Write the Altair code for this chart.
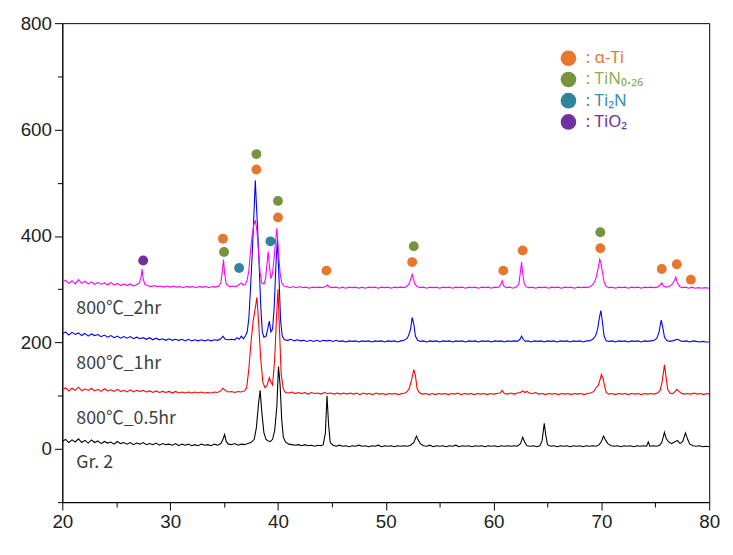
import altair as alt
import pandas as pd

# ---------------- data ----------------
gr2 = [(20.0,14),(20.3,18),(20.6,12),(20.9,17),(21.2,13),(21.5,19),(21.8,12),(22.1,16),(22.4,11),(22.7,17),
(23.0,12),(23.3,15),(23.6,10),(23.9,14),(24.2,11),(24.5,13),(24.8,9),(25.1,14),(25.4,10),(25.7,12),(26.0,9),
(26.3,12),(26.6,8),(26.9,11),(27.2,9),(27.5,12),(27.8,8),(28.1,10),(28.4,8),(28.7,11),(29.0,7),(29.3,10),
(29.6,8),(29.9,9),(30.2,7),(30.5,10),(30.8,6),(31.1,9),(31.4,7),(31.7,9),(32.0,6),(32.3,8),(32.6,6),(32.9,9),
(33.2,7),(33.5,8),(33.8,6),(34.1,9),(34.4,7),(34.7,10),(34.9,18),(35.05,27),(35.2,14),(35.4,9),(35.7,8),
(36.0,10),(36.3,7),(36.6,9),(36.9,8),(37.2,10),(37.5,12),(37.8,18),(38.0,40),(38.2,85),(38.35,110),(38.5,70),
(38.7,30),(38.9,18),(39.1,15),(39.3,14),(39.5,18),(39.7,35),(39.9,80),(40.05,155),(40.2,120),(40.35,55),
(40.5,22),(40.7,13),(41.0,9),(41.3,8),(41.6,7),(41.9,8),(42.2,6),(42.5,8),(42.8,6),(43.1,7),(43.4,5),(43.7,7),
(44.0,6),(44.2,8),(44.4,30),(44.55,100),(44.7,45),(44.85,12),(45.1,7),(45.4,5),(45.7,7),(46.0,5),(46.3,6),
(46.6,4),(46.9,6),(47.2,5),(47.5,7),(47.8,5),(48.1,6),(48.4,4),(48.7,6),(49.0,5),(49.3,7),(49.6,4),(49.9,6),
(50.2,5),(50.5,6),(50.8,4),(51.1,6),(51.4,5),(51.7,6),(52.0,5),(52.3,7),(52.6,12),(52.85,24),(53.0,17),
(53.2,10),(53.5,6),(53.8,5),(54.1,7),(54.4,4),(54.7,6),(55.0,5),(55.3,6),(55.6,4),(55.9,6),(56.2,5),(56.5,7),
(56.8,4),(57.1,6),(57.4,5),(57.7,6),(58.0,4),(58.3,6),(58.6,5),(58.9,6),(59.2,4),(59.5,6),(59.8,5),(60.1,6),
(60.4,4),(60.7,6),(61.0,5),(61.3,6),(61.6,5),(61.9,6),(62.2,5),(62.5,10),(62.7,22),(62.9,12),(63.1,6),
(63.4,5),(63.7,6),(64.0,4),(64.3,6),(64.5,15),(64.7,48),(64.85,25),(65.0,8),(65.3,5),(65.6,6),(65.9,4),
(66.2,6),(66.5,5),(66.8,6),(67.1,4),(67.4,6),(67.7,5),(68.0,6),(68.3,4),(68.6,6),(68.9,5),(69.2,6),(69.5,5),
(69.8,8),(70.0,14),(70.2,24),(70.4,16),(70.6,10),(70.9,6),(71.2,5),(71.5,6),(71.8,4),(72.1,6),(72.4,5),
(72.7,6),(73.0,4),(73.3,6),(73.6,5),(73.9,6),(74.2,5),(74.35,13),(74.5,5),(74.8,6),(75.1,5),(75.4,7),
(75.6,12),(75.85,31),(76.0,20),(76.2,14),(76.5,10),(76.8,13),(77.05,16),(77.3,10),(77.55,14),(77.8,30),
(78.0,18),(78.2,9),(78.5,6),(78.8,5),(79.1,6),(79.4,4),(79.7,5),(80.0,4)]

hr05 = [(20.0,110),(20.3,115),(20.6,109),(20.9,114),(21.2,110),(21.5,116),(21.8,109),(22.1,113),(22.4,110),
(22.7,114),(23.0,109),(23.3,112),(23.6,108),(23.9,113),(24.2,109),(24.5,111),(24.8,108),(25.1,112),(25.4,108),
(25.7,110),(26.0,107),(26.3,111),(26.6,107),(26.9,110),(27.2,108),(27.5,110),(27.8,107),(28.1,109),(28.4,106),
(28.7,109),(29.0,106),(29.3,108),(29.6,106),(29.9,108),(30.2,105),(30.5,108),(30.8,105),(31.1,107),(31.4,105),
(31.7,107),(32.0,105),(32.3,107),(32.6,105),(32.9,107),(33.2,105),(33.5,106),(33.8,105),(34.1,107),(34.4,106),
(34.7,109),(34.9,114),(35.1,110),(35.4,107),(35.7,108),(36.0,106),(36.3,108),(36.6,107),(36.9,109),(37.1,115),
(37.3,150),(37.5,200),(37.7,240),(37.9,265),(38.05,285),(38.2,240),(38.4,170),(38.6,125),(38.8,115),(39.0,120),
(39.2,134),(39.35,125),(39.5,120),(39.7,170),(39.85,240),(40.0,300),(40.15,220),(40.3,140),(40.5,112),
(40.7,106),(41.0,105),(41.3,107),(41.6,104),(41.9,106),(42.2,104),(42.5,106),(42.8,103),(43.1,106),(43.4,104),
(43.7,105),(44.0,103),(44.3,106),(44.6,104),(44.9,105),(45.2,103),(45.5,105),(45.8,103),(46.1,105),(46.4,103),
(46.7,105),(47.0,103),(47.3,105),(47.6,102),(47.9,105),(48.2,103),(48.5,104),(48.8,102),(49.1,105),(49.4,103),
(49.7,104),(50.0,102),(50.3,104),(50.6,103),(50.9,104),(51.2,102),(51.5,104),(51.8,105),(52.0,108),(52.2,115),
(52.4,130),(52.6,149),(52.75,138),(52.9,114),(53.1,106),(53.4,103),(53.7,104),(54.0,102),(54.3,104),(54.6,102),
(54.9,104),(55.2,103),(55.5,104),(55.8,102),(56.1,104),(56.4,103),(56.7,105),(57.0,102),(57.3,104),(57.6,103),
(57.9,104),(58.2,102),(58.5,104),(58.8,103),(59.1,104),(59.4,102),(59.7,104),(60.0,103),(60.3,104),(60.6,105),
(60.8,110),(61.0,104),(61.3,103),(61.6,105),(61.9,103),(62.2,105),(62.5,106),(62.7,109),(62.9,106),(63.1,108),
(63.3,105),(63.6,104),(63.9,106),(64.2,103),(64.5,104),(64.8,102),(65.1,104),(65.4,103),(65.7,104),(66.0,102),
(66.3,104),(66.6,103),(66.9,104),(67.2,102),(67.5,104),(67.8,103),(68.1,104),(68.4,102),(68.7,104),(69.0,105),
(69.3,108),(69.5,115),(69.7,119),(69.85,128),(70.0,140),(70.15,133),(70.3,118),(70.45,106),(70.7,103),
(71.0,104),(71.3,102),(71.6,104),(71.9,103),(72.2,104),(72.5,102),(72.8,104),(73.1,103),(73.4,104),(73.7,102),
(74.0,104),(74.3,103),(74.6,104),(74.9,103),(75.2,105),(75.45,110),(75.65,128),(75.85,158),(76.0,135),
(76.15,112),(76.35,105),(76.6,104),(76.85,108),(77.0,112),(77.2,108),(77.45,104),(77.7,103),(78.0,104),
(78.3,103),(78.6,105),(78.9,103),(79.2,104),(79.5,102),(79.8,104),(80.0,103)]

hr1 = [(20.0,216),(20.3,220),(20.6,214),(20.9,219),(21.2,215),(21.5,218),(21.8,213),(22.1,217),(22.4,212),
(22.7,216),(23.0,213),(23.3,215),(23.6,211),(23.9,214),(24.2,210),(24.5,213),(24.8,209),(25.1,212),(25.4,208),
(25.7,211),(26.0,208),(26.3,211),(26.6,207),(26.9,210),(27.2,207),(27.5,209),(27.8,206),(28.1,209),(28.4,205),
(28.7,208),(29.0,205),(29.3,207),(29.6,204),(29.9,207),(30.2,204),(30.5,206),(30.8,204),(31.1,206),(31.4,203),
(31.7,206),(32.0,203),(32.3,205),(32.6,203),(32.9,205),(33.2,203),(33.5,205),(33.8,203),(34.1,205),(34.4,204),
(34.7,207),(34.9,212),(35.1,206),(35.4,205),(35.7,206),(36.0,205),(36.2,209),(36.4,206),(36.6,212),(36.8,207),
(37.0,213),(37.15,220),(37.3,245),(37.45,300),(37.6,360),(37.75,430),(37.9,505),(38.0,460),(38.1,420),
(38.25,350),(38.4,270),(38.55,220),(38.7,210),(38.9,212),(39.05,225),(39.2,240),(39.35,220),(39.5,225),
(39.65,265),(39.8,340),(39.95,395),(40.1,320),(40.25,240),(40.4,212),(40.6,205),(40.9,204),(41.2,206),
(41.5,203),(41.8,205),(42.1,203),(42.4,204),(42.7,202),(43.0,204),(43.3,202),(43.6,204),(43.9,202),(44.2,204),
(44.5,203),(44.8,204),(45.1,202),(45.4,204),(45.7,202),(46.0,203),(46.3,201),(46.6,203),(46.9,202),(47.2,203),
(47.5,201),(47.8,203),(48.1,202),(48.4,203),(48.7,201),(49.0,203),(49.3,202),(49.6,203),(49.9,201),(50.2,203),
(50.5,202),(50.8,203),(51.1,201),(51.4,203),(51.7,204),(52.0,208),(52.15,215),(52.3,225),(52.45,247),
(52.6,235),(52.75,212),(52.95,204),(53.2,202),(53.5,203),(53.8,201),(54.1,203),(54.4,202),(54.7,203),
(55.0,201),(55.3,203),(55.6,202),(55.9,203),(56.2,201),(56.5,203),(56.8,202),(57.1,203),(57.4,201),(57.7,203),
(58.0,202),(58.3,203),(58.6,201),(58.9,203),(59.2,202),(59.5,203),(59.8,201),(60.1,203),(60.4,202),(60.7,203),
(61.0,201),(61.3,203),(61.6,202),(61.9,203),(62.2,202),(62.45,206),(62.6,212),(62.75,206),(62.95,202),
(63.2,203),(63.5,201),(63.8,203),(64.1,202),(64.4,203),(64.7,201),(65.0,203),(65.3,202),(65.6,203),(65.9,201),
(66.2,203),(66.5,202),(66.8,203),(67.1,201),(67.4,203),(67.7,202),(68.0,203),(68.3,201),(68.6,203),(68.9,203),
(69.2,206),(69.45,212),(69.65,225),(69.8,245),(69.95,260),(70.1,238),(70.25,212),(70.45,203),(70.7,202),
(71.0,203),(71.3,201),(71.6,203),(71.9,202),(72.2,203),(72.5,201),(72.8,203),(73.1,202),(73.4,203),(73.7,201),
(74.0,203),(74.3,202),(74.6,203),(74.9,204),(75.15,208),(75.35,220),(75.55,242),(75.7,228),(75.85,210),
(76.05,204),(76.3,202),(76.6,203),(76.9,205),(77.1,206),(77.35,203),(77.6,202),(77.9,203),(78.2,201),
(78.5,203),(78.8,202),(79.1,201),(79.4,202),(79.7,201),(80.0,201)]

hr2 = [(20.0,312),(20.3,317),(20.6,311),(20.9,316),(21.2,310),(21.5,318),(21.8,311),(22.1,315),(22.4,310),
(22.7,314),(23.0,309),(23.3,313),(23.6,309),(23.9,312),(24.2,308),(24.5,313),(24.8,308),(25.1,311),(25.4,307),
(25.7,310),(26.0,307),(26.3,310),(26.6,306),(26.9,309),(27.15,312),(27.3,322),(27.4,338),(27.5,320),
(27.65,309),(27.9,307),(28.2,305),(28.5,307),(28.8,305),(29.1,306),(29.4,304),(29.7,306),(30.0,304),
(30.3,306),(30.6,304),(30.9,305),(31.2,303),(31.5,305),(31.8,304),(32.1,305),(32.4,303),(32.7,305),(33.0,304),
(33.3,305),(33.6,303),(33.9,305),(34.2,304),(34.5,306),(34.7,312),(34.85,335),(34.95,356),(35.05,330),
(35.2,310),(35.5,305),(35.8,306),(36.1,305),(36.4,309),(36.6,312),(36.8,308),(37.0,310),(37.15,318),
(37.3,335),(37.45,370),(37.6,400),(37.75,420),(37.9,430),(38.05,410),(38.2,370),(38.35,330),(38.5,312),
(38.7,310),(38.85,320),(39.0,350),(39.1,371),(39.2,345),(39.35,320),(39.5,330),(39.65,360),(39.8,395),
(39.9,415),(40.05,370),(40.2,330),(40.35,312),(40.55,306),(40.8,305),(41.1,303),(41.4,305),(41.7,303),
(42.0,305),(42.3,303),(42.6,304),(42.9,302),(43.2,304),(43.5,303),(43.8,304),(44.1,303),(44.4,305),(44.6,308),
(44.8,304),(45.1,303),(45.4,304),(45.7,302),(46.0,304),(46.3,302),(46.6,304),(46.9,303),(47.2,304),(47.5,302),
(47.8,304),(48.1,302),(48.4,304),(48.7,303),(49.0,304),(49.3,302),(49.6,304),(49.9,303),(50.2,304),(50.5,302),
(50.8,304),(51.1,303),(51.4,304),(51.7,303),(52.0,306),(52.2,312),(52.35,322),(52.45,328),(52.55,320),
(52.7,310),(52.9,305),(53.2,303),(53.5,304),(53.8,302),(54.1,304),(54.4,303),(54.7,304),(55.0,302),(55.3,304),
(55.6,303),(55.9,304),(56.2,302),(56.5,304),(56.8,303),(57.1,304),(57.4,302),(57.7,304),(58.0,303),(58.3,304),
(58.6,302),(58.9,304),(59.2,303),(59.5,304),(59.8,302),(60.1,304),(60.4,303),(60.65,308),(60.8,316),
(60.95,306),(61.2,303),(61.5,304),(61.8,302),(62.1,304),(62.35,310),(62.5,335),(62.6,351),(62.7,330),
(62.85,310),(63.05,304),(63.3,303),(63.6,304),(63.9,302),(64.2,304),(64.5,303),(64.8,304),(65.1,302),
(65.4,304),(65.7,303),(66.0,304),(66.3,302),(66.6,304),(66.9,303),(67.2,304),(67.5,302),(67.8,304),(68.1,303),
(68.4,304),(68.7,303),(69.0,305),(69.25,310),(69.45,318),(69.6,330),(69.75,345),(69.85,356),(69.95,350),
(70.1,332),(70.25,314),(70.45,305),(70.7,303),(71.0,304),(71.3,302),(71.6,304),(71.9,303),(72.2,304),
(72.5,302),(72.8,304),(73.1,303),(73.4,304),(73.7,302),(74.0,304),(74.3,303),(74.6,304),(74.9,303),(75.2,304),
(75.45,308),(75.6,312),(75.75,306),(76.0,304),(76.3,305),(76.6,310),(76.8,318),(76.9,323),(77.05,312),
(77.25,305),(77.5,303),(77.8,304),(78.1,302),(78.4,304),(78.7,302),(79.0,303),(79.3,302),(79.6,303),(80.0,302)]

series_names = ["Gr. 2", "800℃_0.5hr", "800℃_1hr", "800℃_2hr"]
series_colors = ["#000000", "#FF0000", "#0000FF", "#FF00FF"]
series_points = [gr2, hr05, hr1, hr2]
label_x = [21.3, 21.3, 21.3, 21.3]
label_y = [-27, 56, 160, 263]

phases = ["α-Ti", "TiN₀.₂₆", "Ti₂N", "TiO₂"]
phase_colors = ["#E8772E", "#77933C", "#31849B", "#7030A0"]
phase_text_colors = ["#E8772E", "#8FAE55", "#3A8DB0", "#7030A0"]

marker_x = [27.5, 34.9, 35.0, 36.4, 38.0, 38.0, 39.3, 40.0, 40.0, 44.5, 52.45, 52.6, 60.9, 62.7, 69.9, 69.9, 75.6, 77.0, 78.3]
marker_y = [354, 395, 370, 340, 525, 554, 390, 435, 466, 335, 351, 381, 335, 373, 377, 407, 338, 347, 318]
marker_phase = ["TiO₂", "α-Ti", "TiN₀.₂₆", "Ti₂N", "α-Ti", "TiN₀.₂₆", "Ti₂N", "α-Ti", "TiN₀.₂₆", "α-Ti",
                "α-Ti", "TiN₀.₂₆", "α-Ti", "α-Ti", "α-Ti", "TiN₀.₂₆", "α-Ti", "α-Ti", "α-Ti"]

x_ticks = [20, 25, 30, 35, 40, 45, 50, 55, 60, 65, 70, 75, 80]
y_ticks = [-100, 0, 100, 200, 300, 400, 500, 600, 700, 800]

# ---------------- chart ----------------
xscale = alt.Scale(domain=[20, 80], nice=False, zero=False)
yscale = alt.Scale(domain=[-100, 800], nice=False, zero=False)

xaxis = alt.Axis(values=x_ticks, title=None, grid=False,
                 labelExpr="datum.value % 10 == 0 ? datum.label : ''",
                 tickSize={"condition": {"test": "datum.value % 10 == 0", "value": 8}, "value": 5},
                 labelFlush=False, labelOverlap=False, labelPadding=3)
yaxis = alt.Axis(values=y_ticks, title=None, grid=False,
                 labelExpr="datum.value % 200 == 0 ? datum.label : ''",
                 tickSize={"condition": {"test": "datum.value % 200 == 0", "value": 8}, "value": 5},
                 labelFlush=False, labelOverlap=False, labelPadding=3)

X = lambda: alt.X("x:Q", scale=xscale, axis=xaxis)
Y = lambda: alt.Y("y:Q", scale=yscale, axis=yaxis)

layers = []
for name, color, pts in zip(series_names, series_colors, series_points):
    df = pd.DataFrame(pts, columns=["x", "y"])
    df["i"] = range(len(df))
    layers.append(alt.Chart(df).mark_line(color=color, strokeWidth=1.1, clip=True).encode(
        x=X(), y=Y(), order="i:Q"))

labels_df = pd.DataFrame({"x": label_x, "y": label_y, "t": series_names})
labels = alt.Chart(labels_df).mark_text(align="left", baseline="middle", font="Noto Sans CJK KR",
                                        fontSize=18, color="#404040").encode(
    x=X(), y=Y(), text="t:N")

color_expr = " : ".join(f"datum.value == '{p}' ? '{c}'" for p, c in zip(phases, phase_text_colors)) + " : '#000'"

markers_df = pd.DataFrame({"x": marker_x, "y": marker_y, "phase": marker_phase})
markers = alt.Chart(markers_df).mark_circle(size=100, opacity=1).encode(
    x=X(), y=Y(),
    color=alt.Color("phase:N", scale=alt.Scale(domain=phases, range=phase_colors),
                    legend=alt.Legend(orient="none", legendX=504, legendY=27, title=None,
                                      symbolType="circle", symbolSize=250, symbolOpacity=1,
                                      symbolStrokeWidth=0,
                                      labelFont="Noto Sans", labelFontSize=17, labelOffset=9,
                                      labelExpr="': ' + datum.label", rowPadding=3.5,
                                      labelColor=alt.ExprRef(expr=color_expr))))

chart = alt.layer(*layers, labels, markers).properties(
    width=655, height=485, padding={"left": 12, "top": 3, "right": 5, "bottom": 5},
    background="white"
).configure_view(stroke="#000000", strokeWidth=1).configure_axis(
    domainColor="#000000", tickColor="#000000", labelColor="#222222",
    labelFont="Liberation Sans", labelFontSize=19, domainWidth=1, tickWidth=1
)

chart.save("out.html", embed_options={"renderer": "svg", "actions": False})
